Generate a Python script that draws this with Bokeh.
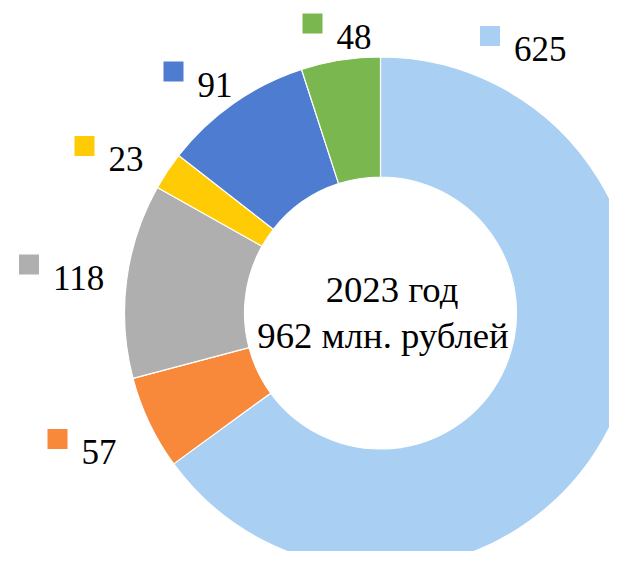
import math
from bokeh.plotting import figure
from bokeh.models import Range1d, ColumnDataSource
from bokeh.core.properties import value
from bokeh.embed import file_html
from bokeh.resources import INLINE

# ---- data ----
values = [625, 57, 118, 23, 91, 48]
labels = ["625", "57", "118", "23", "91", "48"]
colors = ["#A9CFF2", "#F8893A", "#AFAFAF", "#FFCB05", "#4E7CD0", "#7AB74F"]
center_line1 = "2023 год"
center_line2 = "962 млн. рублей"

# ---- layout (picture pixel coordinates) ----
W, H = 609, 551
CX, CY = 380, 312.5
R_OUT, R_IN = 256, 136
# label key-square centres, picture coords
label_pos = [(489.5, 35.5), (57, 438.5), (28.5, 264), (84, 145.5), (173, 71), (312, 23)]
FONT = "Liberation Serif"


def fy(ypage):
    return H - ypage


p = figure(width=W, height=H, output_backend="svg", toolbar_location=None,
           x_range=Range1d(0, W), y_range=Range1d(0, H), min_border=0)
p.axis.visible = False
p.grid.visible = False
p.outline_line_color = None
p.background_fill_color = "white"
p.border_fill_color = "white"

total = sum(values)
starts, ends = [], []
a = math.pi / 2
for v in values:
    starts.append(a)
    a -= v / total * 2 * math.pi
    ends.append(a)

src = ColumnDataSource(dict(start=starts, end=ends, color=colors))
p.annular_wedge(x=CX, y=fy(CY), inner_radius=R_IN, outer_radius=R_OUT,
                start_angle="start", end_angle="end", direction="clock",
                fill_color="color", line_color="white", line_width=1.2, source=src)

lsrc = ColumnDataSource(dict(x=[q[0] for q in label_pos], y=[fy(q[1]) for q in label_pos],
                             color=colors, text=labels))
p.scatter(x="x", y="y", marker="square", size=20, fill_color="color", line_color=None, source=lsrc)
p.text(x="x", y="y", text="text", x_offset=24, y_offset=13, text_align="left",
       text_baseline="alphabetic", text_font=value(FONT), text_font_size="35px",
       text_color="black", source=lsrc)

p.text(x=[391.5], y=[fy(289)], text=[center_line1], text_align="center", text_baseline="alphabetic",
       text_font=value(FONT), text_font_size="36.7px", text_color="black")
p.text(x=[382.5], y=[fy(334.5)], text=[center_line2], text_align="center", text_baseline="alphabetic",
       text_font=value(FONT), text_font_size="36.7px", text_color="black")

open("out.html", "w").write(file_html(p, INLINE))
